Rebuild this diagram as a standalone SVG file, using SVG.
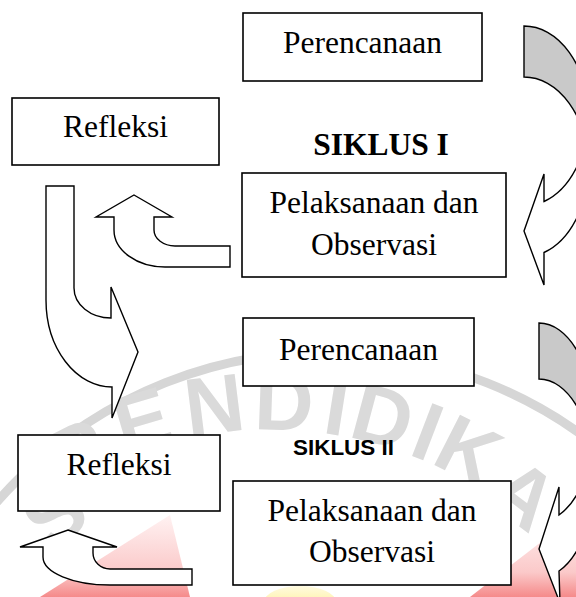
<svg xmlns="http://www.w3.org/2000/svg" width="576" height="597" viewBox="0 0 576 597">
<style>
.box{fill:#fff;stroke:#000;stroke-width:1.6}
.arr{fill:#fff;stroke:#000;stroke-width:1.4;stroke-linejoin:miter}
.back{fill:#c9c9c9;stroke:#000;stroke-width:1.4}
.t{font-family:"Liberation Serif","Times New Roman",serif;font-size:31.5px;fill:#000;text-anchor:middle}
.h1{font-family:"Liberation Serif","Times New Roman",serif;font-size:31.5px;font-weight:bold;fill:#000;text-anchor:middle}
.h2{font-family:"Liberation Sans",Arial,sans-serif;font-size:21.5px;font-weight:bold;fill:#000}
</style>
<defs>
<linearGradient id="red" x1="0" y1="0" x2="0" y2="1"><stop offset="0" stop-color="#fff2f2"/><stop offset="0.7" stop-color="#fbc9c9"/><stop offset="1" stop-color="#f58a8a"/></linearGradient>
<linearGradient id="yel" x1="0" y1="0" x2="0" y2="1"><stop offset="0" stop-color="#fffbe0"/><stop offset="1" stop-color="#ffe97a"/></linearGradient>
</defs>
<rect width="576" height="597" fill="#fff"/>
<g id="watermark">
<circle cx="326" cy="788" r="436" fill="none" stroke="#d6d6d6" stroke-width="9"/>
<path d="M170,515 L40,597 L190,597 Z" fill="url(#red)"/>
<path d="M470,597 L576,515 L576,597 Z" fill="url(#red)"/>
<ellipse cx="300" cy="602" rx="36" ry="16" fill="url(#yel)"/>
<g font-family="Liberation Sans, Arial, sans-serif" font-size="82" font-weight="bold" fill="#dadada" text-anchor="middle">
<text transform="translate(54,514) rotate(-38)" y="29">S</text>
<text transform="translate(78,452) rotate(-27)" y="29">P</text>
<text transform="translate(142,420) rotate(-16.5)" y="29">E</text>
<text transform="translate(214,404) rotate(-7)" y="29">N</text>
<text transform="translate(284,401) rotate(2)" y="29">D</text>
<text transform="translate(337,406) rotate(9)" y="29">I</text>
<text transform="translate(383,416) rotate(15)" y="29">D</text>
<text transform="translate(428,431) rotate(21)" y="29">I</text>
<text transform="translate(469,450) rotate(27)" y="29">K</text>
<text transform="translate(524,494) rotate(37)" y="29">A</text>
</g>
</g>
<g id="connectors">
<path class="back" d="M524,26 A64,90 0 0 1 588,116 L588,167 A64,90 0 0 0 524,77 Z"/>
<path class="arr" d="M588,116 A64,90 0 0 1 544,201.5 L544,174 L524,231 L544,285 L544,252.5 A64,90 0 0 0 588,167 Z"/>
<path class="arr" d="M134,195 L172,217 L154,217 L154,230 A21,16 0 0 0 175,246 L230,246 L230,267 L165,267 A51,37 0 0 1 114,230 L114,217 L96,217 Z"/>
<path class="arr" d="M46,186 L74,186 L74,288 A37,30 0 0 0 111,318 L111,287 L138,352 L112,418 L112,387 A66,87 0 0 1 46,300 Z"/>
<path class="back" d="M539,323 A55,99.4 0 0 1 594,422.4 L594,478.4 A55,99.4 0 0 0 539,379 Z"/>
<path class="arr" d="M594,422.4 A55,99.4 0 0 1 559,515 L559,487 L539,549 L560,603 L559,571 A55,99.4 0 0 0 594,478.4 Z"/>
<path class="arr" d="M68,530 L117,547 L93,547 L93,553 A17,16 0 0 0 110,569 L192,569 L192,585 L110,585 A67,28 0 0 1 43,557 L43,547 L20,547 Z"/>
</g>
<g id="perencanaan1"><rect class="box" x="243" y="13" width="239" height="68"/><text class="t" x="362.5" y="53">Perencanaan</text></g>
<g id="refleksi1"><rect class="box" x="12" y="98" width="207" height="67"/><text class="t" x="115.5" y="137">Refleksi</text></g>
<g id="siklus1"><text class="h1" x="381" y="155">SIKLUS I</text></g>
<g id="pelaksanaan1"><rect class="box" x="242" y="173" width="264" height="104"/><text class="t" x="374" y="213">Pelaksanaan dan</text><text class="t" x="374" y="255">Observasi</text></g>
<g id="perencanaan2"><rect class="box" x="243" y="318" width="231" height="68"/><text class="t" x="358.5" y="360">Perencanaan</text></g>
<g id="refleksi2"><rect class="box" x="18" y="435" width="202" height="76"/><text class="t" x="119" y="475">Refleksi</text></g>
<g id="siklus2"><text class="h2" x="293" y="455" textLength="101" lengthAdjust="spacingAndGlyphs">SIKLUS II</text></g>
<g id="pelaksanaan2"><rect class="box" x="233" y="481" width="278" height="104"/><text class="t" x="372" y="521">Pelaksanaan dan</text><text class="t" x="372" y="562">Observasi</text></g>
</svg>
